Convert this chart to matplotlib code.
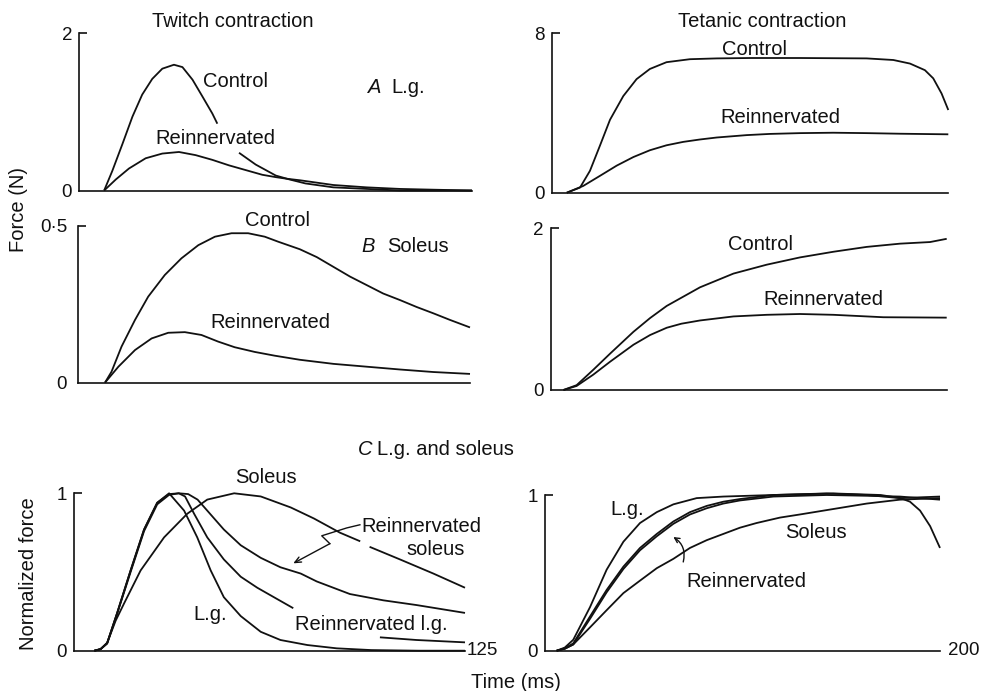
import numpy as np
import matplotlib.pyplot as plt

nan = np.nan

# ---- A: L.g., force in N ----
a_tw_ctrl_t = [8.0, 10.6, 13.8, 17.0, 20.1, 23.3, 26.5, 30.2, 32.9, 36.1, 39.2, 42.4, 44.0, nan,
               50.9, 56.2, 62.6, 67.0, 72.0, 80.9, 91.5, 102.1, 125]
a_tw_ctrl_f = [0, 0.25, 0.59, 0.94, 1.22, 1.42, 1.55, 1.60, 1.57, 1.41, 1.20, 0.98, 0.85, nan,
               0.48, 0.33, 0.19, 0.14, 0.09, 0.04, 0.02, 0.0, 0.0]
a_tw_rein_t = [8.0, 11.7, 15.9, 21.2, 26.5, 31.8, 37.1, 42.4, 47.7, 53.0, 58.3, 62.6, 66.0,
               70.3, 80.9, 91.5, 102.1, 113, 125]
a_tw_rein_f = [0, 0.14, 0.28, 0.41, 0.47, 0.49, 0.45, 0.39, 0.32, 0.26, 0.20, 0.17, 0.15,
               0.13, 0.07, 0.04, 0.02, 0.01, 0.0]

a_tet_ctrl_t = [7.6, 14.3, 19.3, 24.4, 29.4, 36.1, 42.8, 49.5, 57.9, 69.7, 83.2, 100, 125.2,
                158.8, 172.3, 180.7, 188.2, 192.4, 196.6, 200]
a_tet_ctrl_f = [0, 0.26, 1.10, 2.38, 3.66, 4.85, 5.70, 6.21, 6.55, 6.70, 6.74, 6.76, 6.76,
                6.74, 6.66, 6.48, 6.15, 5.74, 4.98, 4.15]
a_tet_rein_t = [7.6, 15.9, 24.4, 32.8, 41.2, 49.5, 57.9, 66.3, 74.7, 83.2, 98.3, 110, 125.2,
                142, 158.8, 175.6, 200]
a_tet_rein_f = [0, 0.34, 0.85, 1.36, 1.79, 2.13, 2.38, 2.55, 2.67, 2.77, 2.89, 2.95, 2.99,
                3.01, 2.99, 2.96, 2.93]

# ---- B: soleus, force in N ----
b_tw_ctrl_t = [8.5, 10.6, 13.8, 18.1, 22.3, 27.6, 32.9, 38.3, 43.6, 48.9, 54.2, 59.5, 63.8,
               70.7, 76.1, 81.4, 86.7, 92.0, 97.3, 102.7, 108.0, 113.3, 118.6, 125]
b_tw_ctrl_f = [0, 0.035, 0.115, 0.20, 0.274, 0.343, 0.396, 0.438, 0.465, 0.476, 0.476, 0.465,
               0.449, 0.425, 0.400, 0.369, 0.338, 0.311, 0.284, 0.263, 0.241, 0.221, 0.200, 0.176]
b_tw_rein_t = [8.5, 12.8, 18.1, 23.4, 28.7, 34.0, 39.3, 44.6, 49.9, 56.3, 62.7, 70.7, 81.4,
               92.0, 102.7, 113.3, 125]
b_tw_rein_f = [0, 0.051, 0.104, 0.141, 0.159, 0.161, 0.152, 0.131, 0.113, 0.098, 0.086, 0.073,
               0.060, 0.051, 0.042, 0.034, 0.028]

b_tet_ctrl_t = [6.4, 13.1, 21.5, 30.0, 41.8, 50.2, 58.6, 75.4, 92.3, 109.1, 125.9, 142.8,
                159.6, 176.4, 191.6, 200]
b_tet_ctrl_f = [0, 0.06, 0.25, 0.45, 0.72, 0.89, 1.04, 1.27, 1.44, 1.55, 1.64, 1.71, 1.77,
                1.81, 1.83, 1.87]
b_tet_rein_t = [6.4, 13.1, 21.5, 30.0, 41.8, 50.2, 58.6, 66.0, 75.4, 92.3, 109.1, 125.9, 142.8,
                159.6, 168, 200]
b_tet_rein_f = [0, 0.05, 0.19, 0.35, 0.56, 0.68, 0.77, 0.82, 0.86, 0.91, 0.93, 0.94, 0.93,
                0.91, 0.90, 0.895]

# ---- C: normalized twitch ----
c_tw_lg_t = [6.5, 8.5, 10.6, 13.8, 18.1, 22.4, 26.6, 30.4, 35.2, 39.4, 43.7, 47.9, 53.3,
             59.7, 66.0, 74.6, 84, 95, 110, 125]
c_tw_lg_f = [0, 0.01, 0.047, 0.24, 0.51, 0.77, 0.94, 1.0, 0.89, 0.72, 0.51, 0.34, 0.22,
             0.12, 0.068, 0.036, 0.015, 0.004, 0, 0]
c_tw_rlg_t = [6.5, 8.5, 10.6, 13.8, 18.1, 22.4, 26.6, 30.4, 33.5, 35.5, 38.4, 42.6, 47.9,
              53.3, 58.6, 63.9, 70.1, nan, 97.8, 109.5, 125]
c_tw_rlg_f = [0, 0.01, 0.05, 0.24, 0.51, 0.77, 0.94, 0.995, 1.0, 0.98, 0.87, 0.72, 0.58,
              0.47, 0.40, 0.34, 0.27, nan, 0.085, 0.068, 0.053]
c_tw_rsol_t = [6.5, 8.5, 10.6, 13.8, 18.1, 22.4, 26.6, 30.4, 33.5, 36.5, 39.5, 42.6, 47.9,
               53.3, 59.7, 66.0, 72.5, 77.6, 88.2, 98.9, 109.5, 125]
c_tw_rsol_f = [0, 0.01, 0.045, 0.235, 0.50, 0.76, 0.93, 0.99, 1.0, 0.995, 0.96, 0.89, 0.77,
               0.67, 0.59, 0.53, 0.49, 0.44, 0.36, 0.32, 0.29, 0.24]
c_tw_sol_t = [6.5, 8.5, 10.6, 13.3, 16.0, 21.3, 28.8, 36.2, 42.6, 51.2, 59.7, 69.3, 76.7,
              85.0, 91.5, nan, 94.5, 104.2, 114.9, 125]
c_tw_sol_f = [0, 0.01, 0.05, 0.19, 0.30, 0.51, 0.72, 0.87, 0.96, 1.0, 0.98, 0.91, 0.84,
              0.75, 0.695, nan, 0.66, 0.58, 0.49, 0.40]

# ---- C: normalized tetanus ----
c_tet_lg_t = [5.9, 10, 14.3, 22.8, 31.2, 39.7, 48.1, 56.6, 65, 76.8, 90.3, 115.6, 146, 170,
              180, 184.8, 189.9, 195, 200]
c_tet_lg_f = [0, 0.02, 0.07, 0.28, 0.52, 0.70, 0.82, 0.89, 0.94, 0.98, 0.99, 1.0, 1.01, 1.0,
              0.98, 0.957, 0.90, 0.80, 0.66]
c_tet_rein_t = [5.9, 10, 14.3, 22.8, 31.2, 39.7, 48.1, 56.6, 65, 73.4, 81.9, 90.3, 98.7,
                115.6, 142.6, 162.9, 179.7, 200]
c_tet_rlg_f = [0, 0.015, 0.047, 0.22, 0.39, 0.54, 0.66, 0.75, 0.83, 0.89, 0.93, 0.957, 0.974,
               1.0, 1.01, 1.0, 0.98, 0.99]
c_tet_rsol_f = [0, 0.012, 0.04, 0.205, 0.375, 0.525, 0.645, 0.735, 0.815, 0.875, 0.915, 0.945,
                0.965, 0.99, 1.0, 0.995, 0.99, 0.97]
c_tet_sol_t = [5.9, 10, 14.3, 22.8, 31.2, 39.7, 48.1, 56.6, 65, 73.4, 81.9, 90.3, 98.7, 107.1,
               119, 129.1, 146, 162.9, 179.7, 200]
c_tet_sol_f = [0, 0.013, 0.04, 0.15, 0.26, 0.37, 0.45, 0.53, 0.59, 0.66, 0.71, 0.75, 0.79,
               0.82, 0.855, 0.875, 0.91, 0.945, 0.97, 0.98]

W, H = 983, 691
plt.rcParams['font.family'] = ['Liberation Sans', 'DejaVu Sans']
FS = 14.5
INK = '#111111'
LW = 1.3

fig = plt.figure(figsize=(W / 100, H / 100), dpi=100)


def make_ax(x0, y_top, x1, y_base, tmax, ymax, top_label, pad=5):
    ax = fig.add_axes([x0 / W, 1 - y_base / H, (x1 - x0) / W, (y_base - y_top) / H])
    ax.set_xlim(0, tmax)
    ax.set_ylim(0, ymax)
    for side in ('top', 'right'):
        ax.spines[side].set_visible(False)
    for side in ('left', 'bottom'):
        ax.spines[side].set_linewidth(1.2)
        ax.spines[side].set_color(INK)
    ax.set_xticks([])
    ax.set_yticks([0, ymax])
    ax.set_yticklabels(['0', top_label])
    ax.tick_params(axis='y', direction='in', length=6, width=1.2, color=INK,
                   labelsize=13.5, pad=pad, labelcolor=INK)
    ax.yaxis.get_major_ticks()[0].tick1line.set_visible(False)
    ax.patch.set_visible(False)
    return ax


def curve(ax, t, f):
    ax.plot(t, f, color=INK, lw=LW, clip_on=False, solid_capstyle='butt',
            solid_joinstyle='round')


def label(x, y, s, **kw):
    kw.setdefault('fontsize', FS)
    kw.setdefault('va', 'baseline')
    fig.text(x / W, 1 - y / H, s, color=INK, **kw)


# panels
ax_a1 = make_ax(79, 33.3, 472, 190.5, 125, 2, '2')
ax_a2 = make_ax(551.7, 33.3, 948.3, 192.7, 200, 8, '8')
ax_b1 = make_ax(78.3, 225.7, 470, 382.7, 125, 0.5, '0·5', pad=8)
ax_b2 = make_ax(550.7, 228.3, 946.7, 390, 200, 2, '2')
ax_c1 = make_ax(74, 493.3, 465, 650.7, 125, 1, '1')
ax_c2 = make_ax(545, 495, 940, 650.7, 200, 1, '1')

curve(ax_a1, a_tw_ctrl_t, a_tw_ctrl_f)
curve(ax_a1, a_tw_rein_t, a_tw_rein_f)
curve(ax_a2, a_tet_ctrl_t, a_tet_ctrl_f)
curve(ax_a2, a_tet_rein_t, a_tet_rein_f)
curve(ax_b1, b_tw_ctrl_t, b_tw_ctrl_f)
curve(ax_b1, b_tw_rein_t, b_tw_rein_f)
curve(ax_b2, b_tet_ctrl_t, b_tet_ctrl_f)
curve(ax_b2, b_tet_rein_t, b_tet_rein_f)
curve(ax_c1, c_tw_lg_t, c_tw_lg_f)
curve(ax_c1, c_tw_rlg_t, c_tw_rlg_f)
curve(ax_c1, c_tw_rsol_t, c_tw_rsol_f)
curve(ax_c1, c_tw_sol_t, c_tw_sol_f)
curve(ax_c2, c_tet_lg_t, c_tet_lg_f)
curve(ax_c2, c_tet_rein_t, c_tet_rlg_f)
curve(ax_c2, c_tet_rein_t, c_tet_rsol_f)
curve(ax_c2, c_tet_sol_t, c_tet_sol_f)

# arrows in C
ax_c1.plot([91.4, 87.2, 79.2, 81.8], [0.80, 0.78, 0.73, 0.68], color=INK, lw=1.0, clip_on=False)
ax_c1.annotate('', xy=(70.1, 0.555), xytext=(81.8, 0.68),
               arrowprops=dict(arrowstyle='->,head_length=0.45,head_width=0.2',
                               color=INK, lw=1.0, shrinkA=0, shrinkB=0))
ax_c2.annotate('', xy=(65, 0.73), xytext=(70, 0.57),
               arrowprops=dict(arrowstyle='->,head_length=0.35,head_width=0.18',
                               color=INK, lw=1.0, shrinkA=0, shrinkB=0,
                               connectionstyle='arc3,rad=0.35'))

# headings and labels
label(232.5, 26.7, 'Twitch contraction', ha='center')
label(762.5, 27.3, 'Tetanic contraction', ha='center')
label(203.3, 87.3, 'Control')
label(368.3, 93.3, 'A', style='italic')
label(391.7, 93.3, 'L.g.')
label(155, 144, 'Reinnervated')
label(721.7, 55, 'Control')
label(720, 123.3, 'Reinnervated')

label(245, 225.7, 'Control')
label(361.7, 251.7, 'B', style='italic')
label(386.7, 251.7, 'Soleus')
label(210, 328.3, 'Reinnervated')
label(728.3, 250, 'Control')
label(763.3, 305, 'Reinnervated')

label(358.3, 455, 'C', style='italic')
label(376.7, 455, 'L.g. and soleus')
label(235, 483.3, 'Soleus')
label(361.7, 531.7, 'Reinnervated')
label(406.7, 555, 'soleus')
label(193.3, 620, 'L.g.')
label(295, 630, 'Reinnervated l.g.')
label(610, 515, 'L.g.')
label(785, 538.3, 'Soleus')
label(686.7, 586.7, 'Reinnervated')

label(467, 650.7, '125', va='center', fontsize=13.5)
label(948.3, 650.7, '200', va='center', fontsize=13.5)
label(516, 688, 'Time (ms)', ha='center')
label(18.3, 210, 'Force (N)', rotation=90, ha='center', va='center')
label(28.5, 574, 'Normalized force', rotation=90, ha='center', va='center')

fig.savefig('out.png', dpi=100, facecolor='white')
